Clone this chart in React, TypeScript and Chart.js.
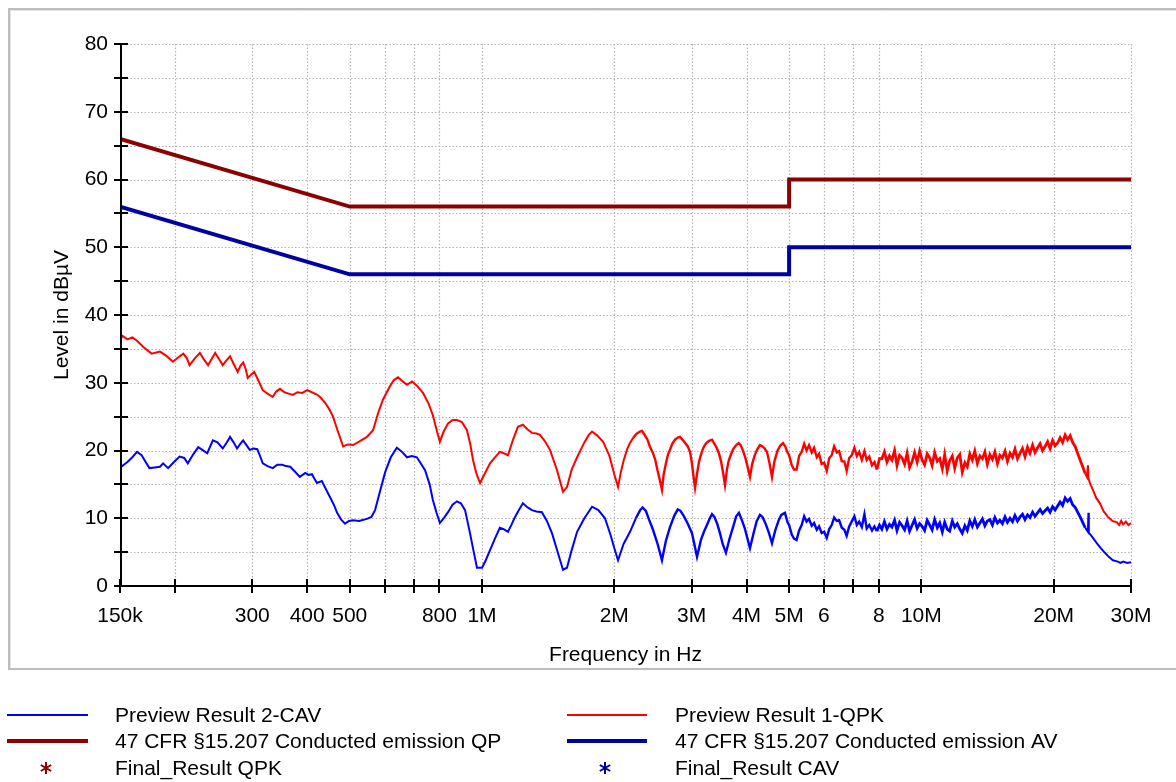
import React, { useEffect, useRef } from "react";
import { Chart, registerables } from "chart.js";

Chart.register(...registerables);

const FONT = "'Liberation Sans', Arial, Helvetica, sans-serif";

// ---- axis ticks ----
const xTickValues = [0.15, 0.2, 0.3, 0.4, 0.5, 0.6, 0.7, 0.8, 1, 2, 3, 4, 5, 6, 7, 8, 10, 20, 30];
const xTickLabels = ["150k", "", "300", "400", "500", "", "", "800", "1M", "2M", "3M", "4M", "5M", "6", "", "8", "10M", "20M", "30M"];
const yGridValues = [0, 5, 10, 15, 20, 25, 30, 35, 40, 45, 50, 55, 60, 65, 70, 75, 80];

// ---- limit lines (MHz, dBµV) ----
const qpLimitFreq = [0.15, 0.5, 5, 5, 30];
const qpLimitLevel = [66, 56, 56, 60, 60];
const avLimitFreq = [0.15, 0.5, 5, 5, 30];
const avLimitLevel = [56, 46, 46, 50, 50];

// ---- Preview Result 1-QPK (red), 150 kHz .. 5 MHz ----
const qpkFreq = [
  0.150, 0.152, 0.156, 0.160, 0.164, 0.170, 0.177, 0.185, 0.191, 0.198, 0.204, 0.209, 0.213, 0.216, 0.222, 0.228,
  0.233, 0.238, 0.243, 0.247, 0.252, 0.257, 0.262, 0.267, 0.272, 0.278, 0.282, 0.286, 0.290, 0.293, 0.298, 0.303,
  0.310, 0.317, 0.325, 0.334, 0.340, 0.347, 0.355, 0.363, 0.371, 0.380, 0.390, 0.400, 0.410, 0.420, 0.428, 0.440,
  0.450, 0.458, 0.470, 0.483, 0.495, 0.509, 0.525, 0.547, 0.565, 0.580, 0.595, 0.615, 0.630, 0.644, 0.660, 0.675,
  0.693, 0.710, 0.734, 0.755, 0.773, 0.790, 0.802, 0.818, 0.837, 0.857, 0.877, 0.900, 0.924, 0.940, 0.954, 0.972,
  0.990, 1.015, 1.043, 1.070, 1.098, 1.120, 1.146, 1.175, 1.207, 1.239, 1.270, 1.299, 1.330, 1.355, 1.390, 1.428,
  1.480, 1.529, 1.561, 1.600, 1.646, 1.710, 1.750, 1.780, 1.830, 1.886, 1.950,
  2.000, 2.040, 2.070, 2.100, 2.140, 2.172, 2.210, 2.250, 2.290, 2.313,
  2.340, 2.380, 2.410, 2.450, 2.480, 2.510, 2.540, 2.568, 2.590, 2.620,
  2.650, 2.678, 2.710, 2.750, 2.790, 2.823, 2.860, 2.900, 2.940, 2.975,
  3.000, 3.030, 3.054, 3.090, 3.120, 3.150, 3.185, 3.230, 3.280, 3.338,
  3.380, 3.420, 3.460, 3.500, 3.540, 3.573, 3.610, 3.640, 3.680, 3.730,
  3.790, 3.840, 3.880, 3.930, 3.980, 4.030, 4.073, 4.120, 4.180, 4.240,
  4.292, 4.350, 4.400, 4.452, 4.510, 4.571, 4.630, 4.700, 4.770, 4.842,
  4.900, 4.950,
];
const qpkLevel = [
  36.3, 36.9, 36.4, 36.7, 36.2, 35.2, 34.3, 34.6, 34.0, 33.1, 33.8, 34.3, 33.6, 32.6, 33.6, 34.4,
  33.4, 32.6, 33.6, 34.4, 33.5, 32.6, 33.3, 33.9, 32.8, 31.6, 32.5, 33.0, 32.0, 30.7, 31.2, 31.6,
  30.3, 28.9, 28.4, 27.9, 28.7, 29.1, 28.6, 28.4, 28.2, 28.6, 28.5, 28.9, 28.6, 28.3, 27.9, 27.0,
  26.0, 25.0, 22.8, 20.6, 20.9, 20.8, 21.3, 22.0, 23.0, 25.5, 27.5, 29.3, 30.4, 30.8, 30.2, 29.7,
  30.2, 29.6, 28.5, 27.0, 25.2, 22.8, 21.3, 22.8, 24.0, 24.5, 24.5, 24.2, 23.0, 21.0, 18.6, 16.5,
  15.2, 16.6, 18.1, 19.0, 19.8, 19.6, 19.3, 21.5, 23.5, 23.8, 23.1, 22.6, 22.5, 22.3, 21.4, 20.1,
  17.2, 13.9, 14.6, 17.2, 19.0, 21.2, 22.3, 22.8, 22.2, 21.3, 19.2,
  16.5, 14.6, 16.8, 18.5, 20.2, 21.1, 21.9, 22.5, 22.8, 22.9,
  22.4, 21.6, 20.6, 19.6, 18.6, 17.0, 15.6, 14.2, 16.4, 18.0,
  19.4, 20.1, 21.0, 21.6, 21.9, 22.0, 21.6, 21.1, 20.6, 19.8,
  18.4, 16.2, 14.5, 16.8, 18.4, 19.4, 20.3, 21.0, 21.4, 21.6,
  21.0, 20.4, 19.6, 18.4, 16.6, 14.9, 17.2, 18.4, 19.3, 20.2,
  20.8, 21.1, 20.8, 19.9, 18.8, 17.4, 16.1, 18.0, 19.4, 20.3,
  20.8, 20.6, 20.3, 19.8, 18.2, 16.1, 18.4, 19.9, 20.7, 21.1,
  20.6, 19.8,
];

// ---- Preview Result 2-CAV (blue), 150 kHz .. 5 MHz ----
const cavFreq = [
  0.150, 0.151, 0.156, 0.160, 0.164, 0.168, 0.172, 0.175, 0.180, 0.185, 0.188, 0.193, 0.199, 0.205, 0.210, 0.214,
  0.220, 0.226, 0.231, 0.237, 0.244, 0.250, 0.257, 0.262, 0.267, 0.272, 0.277, 0.282, 0.286, 0.291, 0.296, 0.302,
  0.308, 0.312, 0.317, 0.325, 0.334, 0.342, 0.351, 0.358, 0.366, 0.375, 0.385, 0.396, 0.403, 0.410, 0.421, 0.432,
  0.442, 0.451, 0.460, 0.468, 0.478, 0.488, 0.498, 0.509, 0.525, 0.547, 0.560, 0.571, 0.585, 0.602, 0.620, 0.640,
  0.655, 0.675, 0.692, 0.711, 0.742, 0.760, 0.773, 0.788, 0.802, 0.820, 0.837, 0.857, 0.877, 0.895, 0.915, 0.939,
  0.955, 0.974, 1.000, 1.020, 1.043, 1.070, 1.098, 1.120, 1.146, 1.168, 1.189, 1.215, 1.239, 1.270, 1.299, 1.330,
  1.369, 1.405, 1.443, 1.490, 1.529, 1.561, 1.600, 1.646, 1.710, 1.780, 1.840, 1.905, 1.960,
  2.000, 2.040, 2.100, 2.172, 2.240, 2.290, 2.320, 2.360, 2.400, 2.450,
  2.510, 2.568, 2.620, 2.678, 2.740, 2.790, 2.830, 2.880, 2.940, 3.006,
  3.086, 3.150, 3.200, 3.251, 3.300, 3.338, 3.380, 3.430, 3.480, 3.530,
  3.591, 3.660, 3.727, 3.790, 3.844, 3.900, 3.960, 4.020, 4.073, 4.150,
  4.220, 4.292, 4.350, 4.420, 4.500, 4.571, 4.650, 4.740, 4.800, 4.892,
  4.960,
];
const cavLevel = [
  17.3, 17.6, 18.3, 19.0, 19.8, 19.3, 18.2, 17.4, 17.5, 17.6, 18.1, 17.4, 18.3, 19.1, 18.9, 18.1,
  19.4, 20.5, 20.1, 19.6, 21.5, 21.2, 20.3, 21.1, 22.0, 21.2, 20.3, 21.0, 21.5, 20.8, 20.1, 20.3,
  20.2, 19.3, 18.1, 17.7, 17.4, 17.9, 17.9, 17.7, 17.6, 16.9, 16.1, 16.7, 16.4, 16.5, 15.2, 15.5,
  14.2, 13.1, 12.0, 10.8, 9.8, 9.2, 9.6, 9.7, 9.6, 9.9, 10.2, 11.2, 13.8, 16.8, 19.0, 20.4,
  19.9, 19.0, 19.2, 19.0, 17.1, 15.0, 12.7, 10.8, 9.3, 10.1, 10.9, 12.0, 12.5, 12.2, 11.2, 7.8,
  5.4, 2.7, 2.7, 3.8, 5.3, 7.0, 8.6, 8.4, 8.0, 9.1, 10.2, 11.3, 12.2, 11.6, 11.2, 11.0,
  10.9, 9.6, 7.8, 4.8, 2.4, 2.7, 5.3, 8.0, 10.0, 11.7, 11.2, 10.0, 7.6,
  5.6, 3.8, 6.2, 8.0, 10.0, 11.2, 11.6, 11.1, 9.8, 8.3,
  6.2, 3.8, 6.6, 8.7, 10.4, 11.3, 11.1, 10.3, 9.2, 7.8,
  4.3, 6.8, 8.0, 9.0, 10.0, 10.6, 10.2, 9.2, 7.8, 6.2,
  4.9, 7.0, 8.7, 10.3, 10.8, 9.8, 8.6, 7.0, 5.6, 7.8,
  9.6, 10.5, 10.2, 9.2, 7.8, 6.3, 8.2, 9.8, 10.5, 10.8,
  9.4,
];

// ---- noisy band 5 MHz .. 23.3 MHz (shared frequency samples) ----
const noiseFreq = [
  5.00, 5.07, 5.13, 5.20, 5.27, 5.34, 5.41, 5.48, 5.55, 5.63,
  5.70, 5.78, 5.85, 5.93, 6.01, 6.09, 6.17, 6.25, 6.33, 6.42,
  6.50, 6.59, 6.68, 6.76, 6.85, 6.94, 7.04, 7.13, 7.22, 7.32,
  7.42, 7.51, 7.61, 7.72, 7.82, 7.92, 8.03, 8.13, 8.24, 8.35,
  8.46, 8.57, 8.69, 8.80, 8.92, 9.04, 9.16, 9.28, 9.40, 9.53,
  9.65, 9.78, 9.91, 10.04, 10.17, 10.31, 10.45, 10.58, 10.72, 10.87,
  11.01, 11.16, 11.30, 11.45, 11.60, 11.76, 11.91, 12.07, 12.23, 12.39,
  12.56, 12.72, 12.89, 13.06, 13.23, 13.41, 13.59, 13.77, 13.95, 14.13,
  14.32, 14.51, 14.70, 14.90, 15.09, 15.29, 15.50, 15.70, 15.91, 16.12,
  16.33, 16.55, 16.77, 16.99, 17.21, 17.44, 17.67, 17.91, 18.14, 18.38,
  18.63, 18.87, 19.12, 19.38, 19.63, 19.89, 20.15, 20.42, 20.69, 20.96,
  21.24, 21.52, 21.81, 22.09, 22.39, 22.68, 22.98, 23.29,
];
const qpkNoiseLevel = [
  19.3, 17.8, 17.2, 17.2, 19.2, 19.8, 21.0, 20.0, 20.8, 19.7,
  20.4, 19.0, 19.5, 18.0, 18.2, 17.0, 18.9, 19.3, 20.6, 19.7,
  19.9, 18.4, 18.4, 17.0, 18.9, 19.3, 20.4, 19.2, 19.8, 18.6,
  19.9, 18.6, 19.1, 17.8, 18.3, 17.2, 18.8, 18.8, 19.8, 18.3,
  19.2, 18.6, 20.0, 17.8, 19.3, 18.9, 18.0, 19.6, 17.5, 18.4,
  19.7, 18.3, 19.9, 18.6, 17.9, 19.5, 18.9, 17.8, 19.7, 18.4,
  18.8, 17.3, 19.4, 17.0, 18.5, 19.2, 17.4, 18.9, 19.4, 16.8,
  18.2, 17.6, 19.5, 18.6, 19.9, 18.1, 19.2, 18.8, 19.8, 18.0,
  19.4, 18.7, 19.8, 18.1, 19.3, 18.9, 19.9, 18.4, 19.6, 19.0,
  20.2, 18.8, 19.6, 20.3, 19.1, 20.5, 19.6, 20.8, 19.7, 20.4,
  21.0, 20.0, 20.6, 21.3, 20.3, 21.5, 20.7, 21.1, 21.9, 21.2,
  22.3, 21.6, 22.2, 21.2, 20.6, 19.6, 18.6, 17.6,
];
const cavNoiseLevel = [
  9.0, 7.6, 7.0, 6.8, 8.2, 9.0, 10.3, 9.5, 9.9, 8.9,
  9.3, 8.3, 8.8, 7.8, 8.0, 7.1, 8.4, 9.0, 10.1, 9.6,
  9.7, 8.6, 8.3, 7.4, 8.8, 9.5, 10.3, 9.0, 9.5, 8.7,
  10.6, 8.5, 9.0, 8.2, 8.8, 8.1, 9.0, 8.4, 9.5, 8.4,
  9.1, 8.7, 9.7, 8.2, 9.4, 8.9, 8.3, 9.6, 8.1, 9.0,
  9.8, 8.5, 9.2, 8.8, 8.2, 9.7, 9.0, 8.3, 9.8, 8.6,
  9.3, 8.0, 9.4, 8.4, 8.1, 9.6, 8.7, 9.2, 8.4, 7.8,
  8.9, 8.2, 9.6, 8.8, 9.8, 8.7, 9.3, 9.9, 8.9, 9.6,
  9.8, 9.0, 10.1, 9.3, 9.7, 9.2, 10.2, 9.4, 10.0, 9.5,
  10.4, 9.6, 10.2, 10.6, 9.8, 10.5, 10.1, 10.9, 10.3, 10.8,
  11.3, 10.7, 11.1, 11.5, 10.9, 11.7, 11.2, 11.8, 12.4, 11.9,
  13.0, 12.5, 12.9, 12.0, 11.6, 10.9, 10.2, 9.4,
];

// ---- roll-off tails 23.3 MHz .. 30 MHz ----
const qpkTailFreq = [23.60, 23.81, 23.94, 24.00, 24.20, 24.57, 25.00, 25.49, 26.00, 26.59, 27.20, 27.87, 28.20, 28.50, 28.80, 29.20, 29.60, 30.00];
const qpkTailLevel = [16.6, 16.1, 17.8, 15.9, 15.2, 14.2, 13.0, 12.2, 11.0, 10.2, 9.6, 9.4, 9.0, 9.6, 9.1, 9.5, 9.0, 9.3];
const cavTailFreq = [23.60, 23.94, 24.00, 24.05, 24.50, 25.10, 25.60, 26.17, 26.70, 27.29, 28.00, 28.40, 28.80, 29.40, 30.00];
const cavTailLevel = [8.6, 8.0, 10.8, 7.9, 7.2, 6.3, 5.6, 4.9, 4.3, 3.8, 3.6, 3.4, 3.6, 3.4, 3.5];

// ---- legend entries ----
const legendLeft = ["Preview Result 2-CAV", "47 CFR §15.207 Conducted emission QP", "Final_Result QPK"];
const legendRight = ["Preview Result 1-QPK", "47 CFR §15.207 Conducted emission AV", "Final_Result CAV"];

const toPoints = (fs: number[], vs: number[]) => fs.map((f, i) => ({ x: f, y: vs[i] }));

const COLORS = {
  qpk: "#ff0000",
  cav: "#0000ff",
  qpLim: "#8b0000",
  avLim: "#0000a0",
};

// thicker stroke where the measured trace becomes a dense noise band
const noisyWidth = (ctx: any) => {
  const a = ctx.p0?.parsed?.x ?? 0;
  if (a >= 7.9 && a < 23.3) return 2.8;
  if (a >= 2.2 && a < 7.9) return 2.4;
  return 2;
};

function drawStar(ctx: CanvasRenderingContext2D, cx: number, cy: number, r: number, color: string) {
  ctx.save();
  ctx.strokeStyle = color;
  ctx.lineWidth = 2;
  ctx.beginPath();
  for (const a of [90, 30, -30]) {
    const rad = (a * Math.PI) / 180;
    const dx = Math.cos(rad) * r;
    const dy = Math.sin(rad) * r;
    ctx.moveTo(cx - dx, cy - dy);
    ctx.lineTo(cx + dx, cy + dy);
  }
  ctx.stroke();
  ctx.restore();
}

const decorPlugin = {
  id: "emiDecor",
  beforeDraw(chart: any) {
    const ctx = chart.ctx as CanvasRenderingContext2D;
    ctx.save();
    ctx.fillStyle = "#ffffff";
    ctx.fillRect(0, 0, chart.width, chart.height);
    ctx.strokeStyle = "#bdbdbd";
    ctx.lineWidth = 2;
    ctx.beginPath();
    ctx.moveTo(chart.width, 9);
    ctx.lineTo(9, 9);
    ctx.lineTo(9, 669);
    ctx.lineTo(chart.width, 669);
    ctx.stroke();
    ctx.strokeStyle = "#e3e3e3";
    ctx.lineWidth = 1;
    ctx.beginPath();
    ctx.moveTo(chart.width, 10.5);
    ctx.lineTo(10.5, 10.5);
    ctx.lineTo(10.5, 667.5);
    ctx.stroke();
    ctx.restore();
  },
  beforeDatasetsDraw(chart: any) {
    const ctx = chart.ctx as CanvasRenderingContext2D;
    const { left, right, top, bottom } = chart.chartArea;
    const xs = chart.scales.x;
    const ys = chart.scales.y;
    ctx.save();
    ctx.strokeStyle = "#b4b4b4";
    ctx.lineWidth = 1.2;
    ctx.setLineDash([1.5, 2]);
    ctx.beginPath();
    for (const v of xTickValues) {
      if (v === xTickValues[0]) continue;
      const px = Math.round(xs.getPixelForValue(v)) + 0.5;
      ctx.moveTo(px, top);
      ctx.lineTo(px, bottom);
    }
    for (const v of yGridValues) {
      if (v === 0) continue;
      const py = Math.round(ys.getPixelForValue(v)) + 0.5;
      ctx.moveTo(left, py);
      ctx.lineTo(right, py);
    }
    ctx.stroke();
    ctx.restore();
  },
  afterDatasetsDraw(chart: any) {
    const ctx = chart.ctx as CanvasRenderingContext2D;
    const { left, right, top, bottom } = chart.chartArea;
    const xs = chart.scales.x;
    const ys = chart.scales.y;
    ctx.save();
    ctx.strokeStyle = "#000000";
    ctx.lineWidth = 2;
    ctx.beginPath();
    ctx.moveTo(left + 1, top);
    ctx.lineTo(left + 1, bottom);
    ctx.moveTo(left, bottom);
    ctx.lineTo(right, bottom);
    for (const v of yGridValues) {
      const py = Math.round(ys.getPixelForValue(v));
      ctx.moveTo(left - 6, py);
      ctx.lineTo(left + 8, py);
    }
    for (const v of xTickValues) {
      const px = Math.round(xs.getPixelForValue(v));
      ctx.moveTo(px, bottom - 7);
      ctx.lineTo(px, bottom + 7);
    }
    ctx.stroke();
    ctx.restore();
  },
  afterDraw(chart: any) {
    const ctx = chart.ctx as CanvasRenderingContext2D;
    const rowsY = [715, 741, 768];
    const cols = [
      { lineX0: 7, lineX1: 88, starX: 46, textX: 115, labels: legendLeft, thin: COLORS.cav, thick: COLORS.qpLim, star: COLORS.qpLim },
      { lineX0: 567, lineX1: 647, starX: 605, textX: 675, labels: legendRight, thin: COLORS.qpk, thick: COLORS.avLim, star: COLORS.avLim },
    ];
    ctx.save();
    for (const c of cols) {
      ctx.lineCap = "butt";
      ctx.strokeStyle = c.thin;
      ctx.lineWidth = 2;
      ctx.beginPath();
      ctx.moveTo(c.lineX0, rowsY[0]);
      ctx.lineTo(c.lineX1, rowsY[0]);
      ctx.stroke();
      ctx.strokeStyle = c.thick;
      ctx.lineWidth = 4;
      ctx.beginPath();
      ctx.moveTo(c.lineX0, rowsY[1]);
      ctx.lineTo(c.lineX1, rowsY[1]);
      ctx.stroke();
      drawStar(ctx, c.starX, rowsY[2], 6, c.star);
      ctx.fillStyle = "#000000";
      ctx.font = `21px ${FONT}`;
      ctx.textBaseline = "middle";
      ctx.textAlign = "left";
      c.labels.forEach((t, i) => ctx.fillText(t, c.textX, rowsY[i] + 1));
    }
    ctx.restore();
  },
};

export default function App() {
  const canvasRef = useRef<HTMLCanvasElement | null>(null);

  useEffect(() => {
    const canvas = canvasRef.current;
    if (!canvas) return;
    const font = { family: FONT, size: 21 };
    const qpkPoints = [
      ...toPoints(qpkFreq, qpkLevel),
      ...toPoints(noiseFreq, qpkNoiseLevel),
      ...toPoints(qpkTailFreq, qpkTailLevel),
    ];
    const cavPoints = [
      ...toPoints(cavFreq, cavLevel),
      ...toPoints(noiseFreq, cavNoiseLevel),
      ...toPoints(cavTailFreq, cavTailLevel),
    ];
    const chart = new Chart(canvas, {
      type: "line",
      data: {
        datasets: [
          {
            label: "47 CFR §15.207 Conducted emission QP",
            data: toPoints(qpLimitFreq, qpLimitLevel),
            borderColor: COLORS.qpLim,
            borderWidth: 4,
            pointRadius: 0,
            fill: false,
          },
          {
            label: "47 CFR §15.207 Conducted emission AV",
            data: toPoints(avLimitFreq, avLimitLevel),
            borderColor: COLORS.avLim,
            borderWidth: 4,
            pointRadius: 0,
            fill: false,
          },
          {
            label: "Preview Result 1-QPK",
            data: qpkPoints,
            borderColor: COLORS.qpk,
            borderWidth: 2,
            segment: { borderWidth: noisyWidth },
            pointRadius: 0,
            fill: false,
          },
          {
            label: "Preview Result 2-CAV",
            data: cavPoints,
            borderColor: COLORS.cav,
            borderWidth: 2,
            segment: { borderWidth: noisyWidth },
            pointRadius: 0,
            fill: false,
          },
        ],
      },
      options: {
        animation: false,
        responsive: false,
        devicePixelRatio: 1,
        layout: { padding: { left: 0, top: 44, right: 45, bottom: 96 } },
        plugins: {
          legend: { display: false },
          tooltip: { enabled: false },
        },
        elements: { line: { tension: 0 }, point: { radius: 0 } },
        scales: {
          x: {
            type: "logarithmic",
            min: 0.15,
            max: 30,
            afterBuildTicks: (scale: any) => {
              scale.ticks = xTickValues.map((v) => ({ value: v }));
            },
            afterFit: (scale: any) => {
              scale.height = 100;
            },
            grid: { display: false, drawTicks: false },
            border: { display: false },
            ticks: {
              autoSkip: false,
              maxRotation: 0,
              minRotation: 0,
              padding: 18,
              color: "#000000",
              font,
              callback: (_v: any, i: number) => xTickLabels[i] ?? "",
            },
            title: {
              display: true,
              text: "Frequency in Hz",
              color: "#000000",
              font,
              padding: { top: 0, bottom: 18 },
            },
          },
          y: {
            type: "linear",
            min: 0,
            max: 80,
            afterFit: (scale: any) => {
              scale.width = 120;
            },
            grid: { display: false, drawTicks: false },
            border: { display: false },
            ticks: {
              stepSize: 10,
              padding: 12,
              color: "#000000",
              font,
            },
            title: {
              display: true,
              text: "Level in dBµV",
              color: "#000000",
              font,
              padding: { top: 50, bottom: 0 },
            },
          },
        },
      },
      plugins: [decorPlugin],
    } as any);
    return () => chart.destroy();
  }, []);

  return (
    <div style={{ position: "fixed", left: 0, top: 0, width: 1176, height: 782, background: "#ffffff" }}>
      <canvas ref={canvasRef} width={1176} height={782} style={{ display: "block", width: 1176, height: 782 }} />
    </div>
  );
}
